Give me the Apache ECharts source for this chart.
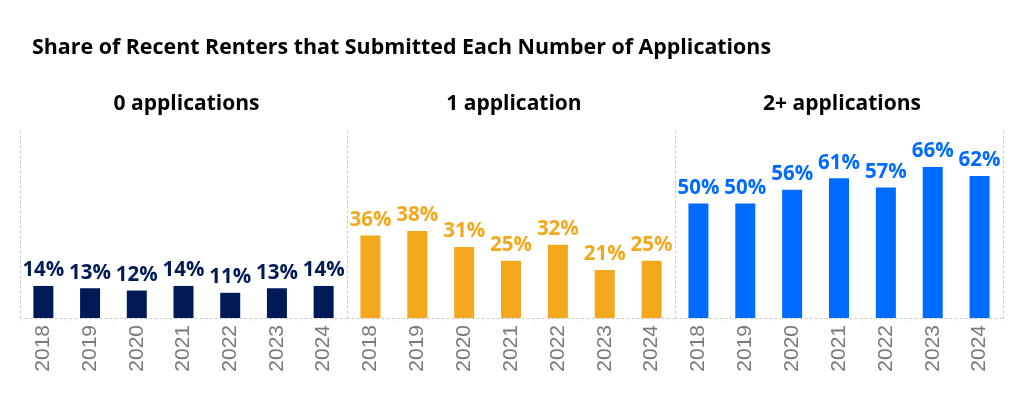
<!DOCTYPE html>
<html><head><meta charset="utf-8">
<script src="https://cdn.jsdelivr.net/npm/echarts@6/dist/echarts.min.js"></script>
<style>html,body{margin:0;padding:0;background:#fff}#c{width:1024px;height:396px}</style>
</head><body><div id="c"></div>
<script>
const years = ['2018','2019','2020','2021','2022','2023','2024'];
const zeroApps = [14,13,12,14,11,13,14];
const oneApp = [36,38,31,25,32,21,25];
const twoPlusApps = [50,50,56,61,57,66,62];
const panelTitles = ['0 applications','1 application','2+ applications'];
const colors = ['#001A57','#F4A81D','#006BFF'];
const seriesData = [zeroApps, oneApp, twoPlusApps];

const grids = [
  {left:20, width:327, top:128, height:190},
  {left:347, width:328, top:128, height:190},
  {left:675, width:328, top:128, height:190}
];
const dotted = {show:true, lineStyle:{color:'#c8c8c8', type:[2,3], width:1}};
const option = {
  animation:false,
  title:[{text:'Share of Recent Renters that Submitted Each Number of Applications', left:27, top:32,
    textStyle:{fontFamily:'Open Sans', fontWeight:'bold', fontSize:21.4, color:'#000'}}]
    .concat(panelTitles.map((t,i)=>({text:t, left:grids[i].left+grids[i].width/2 - 2, textAlign:'center', top:89,
      textStyle:{fontFamily:'Open Sans', fontWeight:'bold', fontSize:21, color:'#000'}}))),
  grid: grids,
  xAxis: grids.map((g,i)=>({type:'category', gridIndex:i, data:years,
    axisLine:dotted,
    axisTick:{show:true, length:4, lineStyle:{color:'#eeeeee'}},
    axisLabel:{rotate:90, fontFamily:'Liberation Sans', fontSize:21, color:'#7a7a7a', margin:7}})),
  yAxis: grids.map((g,i)=>({type:'value', gridIndex:i, min:0, max:83,
    axisLine:dotted, axisLabel:{show:false}, axisTick:{show:false}, splitLine:{show:false}}))
    .concat([{type:'value', gridIndex:2, position:'right', min:0, max:83,
    axisLine:dotted, axisLabel:{show:false}, axisTick:{show:false}, splitLine:{show:false}}]),
  series: seriesData.map((d,i)=>({type:'bar', xAxisIndex:i, yAxisIndex:i, data:d, barWidth:20,
    itemStyle:{color:colors[i]},
    label:{show:true, position:'top', distance:5, formatter:'{c}%', fontFamily:'Open Sans', fontWeight:'bold', fontSize:20.5, color:colors[i]}}))
};
echarts.init(document.getElementById('c')).setOption(option);
</script></body></html>
